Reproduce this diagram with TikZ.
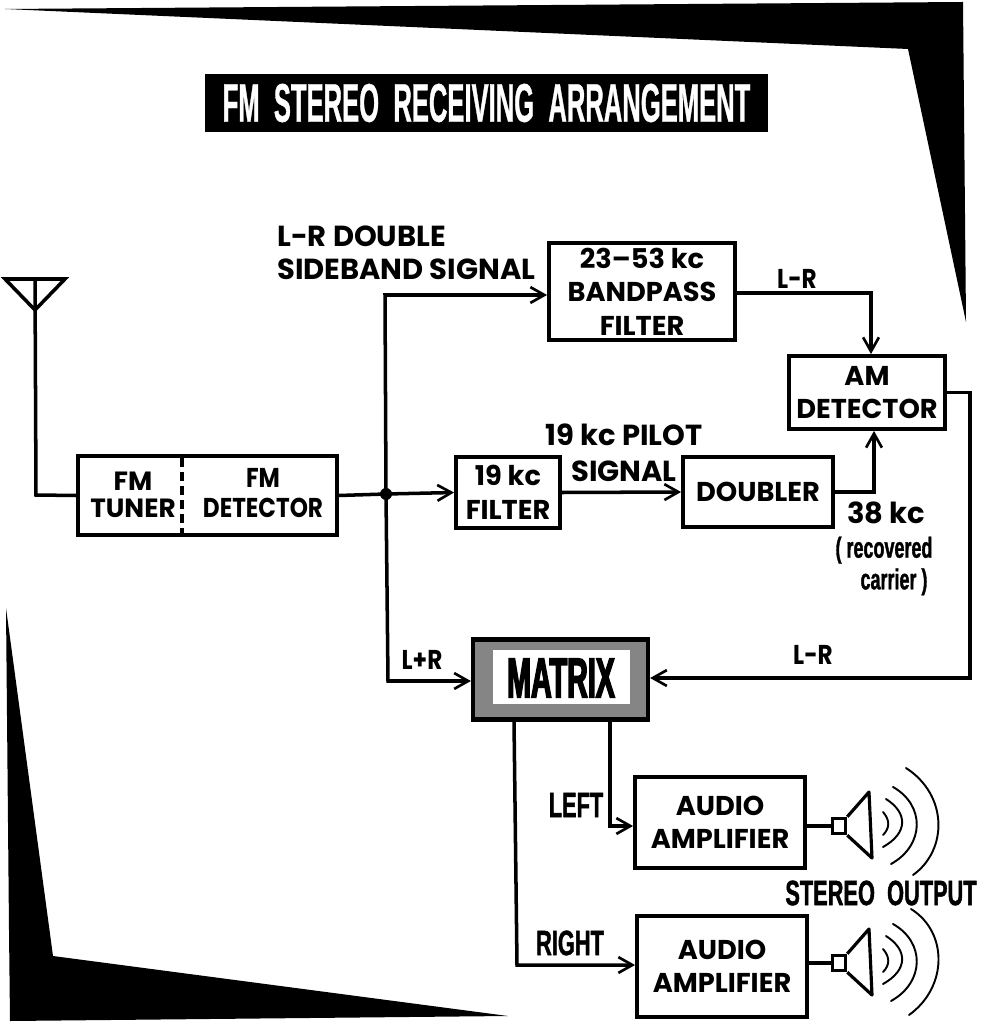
\documentclass[tikz,border=0pt]{standalone}
\usepackage{fontspec}
\setmainfont{Poppins}
\newfontfamily\tightfont[FakeStretch=0.85]{Poppins}
\newfontfamily\narrowfont[FakeStretch=0.62,BoldFeatures={FakeBold=1.2}]{Liberation Sans}
\newfontfamily\titlefont[FakeStretch=0.47,BoldFeatures={FakeBold=0.6}]{Liberation Sans}
\newfontfamily\matrixfont[FakeStretch=0.51,BoldFeatures={FakeBold=2.5}]{Liberation Sans}
\usetikzlibrary{arrows.meta}
\tikzset{
    block/.style={draw,line width=2.2pt,inner sep=0pt,align=center,font=\fontsize{15.5}{19}\selectfont\bfseries},
    wire/.style={line width=2pt},
    label/.style={inner sep=0pt,align=center,font=\fontsize{16.5}{19}\selectfont\bfseries},
    tight/.style={inner sep=0pt,align=center,font=\tightfont\fontsize{15.5}{17}\selectfont\bfseries},
    narrow/.style={inner sep=0pt,align=center,font=\narrowfont\fontsize{20}{24}\selectfont\bfseries},
    wave/.style={line width=1.1pt,line cap=round},
}
\begin{document}
\begin{tikzpicture}[x=0.02cm,y=-0.02cm,>={Straight Barb[length=8pt,width=9pt,line width=1.5pt]}]
    \useasboundingbox (0,0) rectangle (985,1023);
    \fill (5,9) --(963,2) --(966,322) --(908,49) --cycle; %top wedge
    \fill (6,608) --(53,956) --(508,1016) --(10,1021) --(9,930) --cycle; %bottom wedge
    \node[fill=black,text=white,minimum width=11.26cm,minimum height=1.16cm,inner sep=0pt,font=\titlefont\fontsize{31}{36}\selectfont\bfseries] (title) at (486.5,103) {FM\ \ STEREO\ \ RECEIVING\ \ ARRANGEMENT};
    %blocks
    \node[block,minimum width=5.18cm,minimum height=1.58cm] (fm) at (207.5,495.5) {};
    \node[tight,font=\fontsize{15}{15}\selectfont\bfseries] (tuner) at (133,495) {FM\\TUNER};
    \node[tight] (detector) at (263,493) {FM\\DETECTOR};
    \node[block,minimum width=3.72cm,minimum height=1.94cm] (bandpass) at (642,291.5) {23--53 kc\\BANDPASS\\FILTER};
    \node[block,minimum width=3.12cm,minimum height=1.46cm] (am) at (867,392.5) {AM\\DETECTOR};
    \node[block,minimum width=2.08cm,minimum height=1.42cm] (filter) at (508,492.5) {19 kc\\FILTER};
    \node[block,minimum width=3cm,minimum height=1.4cm] (doubler) at (758,492) {DOUBLER};
    \node[block,minimum width=3.4cm,minimum height=1.82cm] (ampa) at (720,822.5) {AUDIO\\AMPLIFIER};
    \node[block,minimum width=3.4cm,minimum height=2.02cm] (ampb) at (722,966.5) {AUDIO\\AMPLIFIER};
    \node[draw,line width=2.4pt,fill=black!48,minimum width=3.5cm,minimum height=1.6cm,inner sep=0pt] (matrixbox) at (560.5,679.5) {};
    \fill[white] (493,650) rectangle (630,704);
    \node[inner sep=0pt,font=\matrixfont\fontsize{32}{36}\selectfont\bfseries] (matrixtext) at (561,678) {MATRIX};
    \draw[line width=2pt,dash pattern=on 5pt off 3pt] (182,458) --(182,534); %tuner / detector
    %antenna
    \coordinate (ant) at (35,279);
    \draw[line width=2pt,line join=miter] (5,279) --(65,279) --(35,310) --cycle;
    \draw[wire] (ant) --(36,495) --(fm.west);
    %wires
    \coordinate (junc) at (386,494);
    \fill (junc) circle (6);
    \coordinate (up) at (385,295);
    \coordinate (down) at (388,681);
    \draw[wire] (fm.east) --(junc);
    \draw[wire,->] (junc) --(filter.west);
    \draw[wire,->] (junc) --(up) --(bandpass.west |- up);
    \draw[wire,->] (junc) --(down) --(matrixbox.west |- down);
    \draw[wire,->] (bandpass.east |- 0,293) -|(871,293) --(am.north -| 871,0);
    \draw[wire,->] (filter.east) --(doubler.west);
    \draw[wire,->] (doubler.east) -|(am.south -| 874,0);
    \draw[wire,->] (am.east) -|(970,678) --(matrixbox.east |- 0,678);
    \draw[wire,->] (matrixbox.south -| 610,0) --(610,826) --(ampa.west |- 0,826);
    \draw[wire,->] (matrixbox.south -| 514,0) --(517,965) --(ampb.west |- 0,965);
    %speakers
    \node[draw,line width=2pt,minimum width=0.26cm,minimum height=0.3cm,inner sep=0pt] (spka) at (839,826) {};
    \node[draw,line width=2pt,minimum width=0.26cm,minimum height=0.3cm,inner sep=0pt] (spkb) at (839,963) {};
    \draw[wire] (ampa.east |- spka) --(spka);
    \draw[wire] (ampb.east |- spkb) --(spkb);
    \foreach \n/\d/\xa/\ya/\xb/\yb in {a/825/906/57/913/50,b/962/911/53/909/53} {
        \draw[line width=1.8pt,line join=round] (spk\n.north east) --(869,\d-33) --(872,\d+33) --(spk\n.south east);
        \draw[wave] (883,\d-13) .. controls (890,\d-5) and (890,\d+3) .. (883,\d+10);
        \draw[wave] (886,\d-26) .. controls (908,\d-12) and (908,\d+8) .. (883,\d+22);
        \draw[wave] (893,\d-38) .. controls (925,\d-20) and (925,\d+20) .. (891,\d+39);
        \draw[wave] (\xa,\d-\ya) .. controls (948,\d-30) and (948,\d+25) .. (\xb,\d+\yb);
    }
    %labels
    \node[label,align=left,anchor=west] (sideband) at (277,253) {L-R DOUBLE\\SIDEBAND SIGNAL};
    \node[tight] (lrtop) at (797,279) {L-R};
    \node[label,font=\fontsize{16.5}{20.5}\selectfont\bfseries] (pilot) at (624,453) {19 kc PILOT\\SIGNAL};
    \node[label] (carrier) at (886,513) {38 kc};
    \node[inner sep=0pt,align=center,font=\narrowfont\fontsize{16.5}{18}\selectfont\bfseries] (recovered) at (884,566) {( recovered\\\ \ \ \ carrier )};
    \node[tight] (lrlow) at (813,655) {L-R};
    \node[tight] (lplusr) at (422,660) {L+R};
    \node[narrow] (leftlab) at (576,805) {LEFT};
    \node[narrow] (rightlab) at (570,943) {RIGHT};
    \node[narrow] (stereo) at (881,893) {STEREO\ \ OUTPUT};
\end{tikzpicture}
\end{document}
